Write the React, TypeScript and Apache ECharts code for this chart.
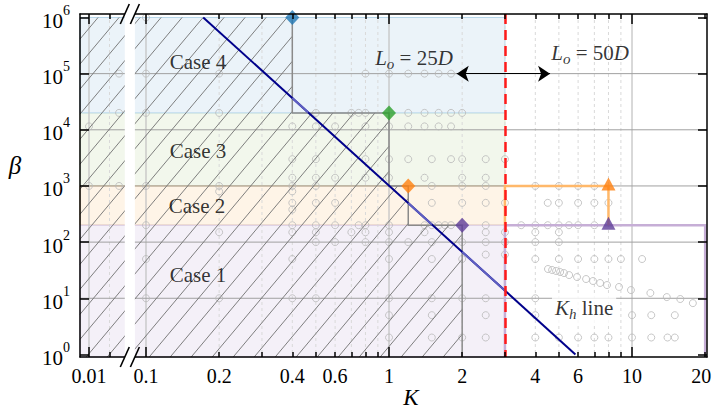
import { useEffect, useRef } from 'react';
import * as echarts from 'echarts';

const FONT = '"Liberation Serif", "Times New Roman", Times, serif';

// ---------------- axes ----------------
const xLabelK = [0.01, 0.1, 0.2, 0.4, 0.6, 1, 2, 4, 6, 10, 20];
const xMajorTickK = [0.01, 0.1, 1, 10];
const xMinorTickK = [0.03, 0.2, 0.3, 0.4, 0.5, 0.6, 0.7, 0.8, 0.9, 2, 3, 4, 5, 6, 7, 8, 9, 20];
const xGridMajorK = [0.01, 0.1, 1, 10];
const xGridMinorK = [0.03, 0.2, 0.3, 0.4, 0.5, 0.6, 0.7, 0.8, 0.9, 2, 3, 4, 5, 6, 7, 8, 9];
const yExponents = [0, 1, 2, 3, 4, 5, 6];
const yGridExponents = [1, 2, 3, 4, 5];

// broken K axis: left panel ends at BREAK_FROM_K, main panel starts at BREAK_TO_K
const BREAK_FROM_K = 0.068;
const BREAK_TO_K = 0.09;
const K_AXIS_MIN = 0.00618;
const K_AXIS_MAX = 20.35;
const BETA_AXIS_MIN = 0.9;
const BETA_AXIS_MAX = 1.153e6;

// ---------------- regimes ----------------
const caseNames = ['Case 1', 'Case 2', 'Case 3', 'Case 4'];
const caseBetaLow = [BETA_AXIS_MIN, 200, 1000, 20000];
const caseBetaHigh = [200, 1000, 20000, 1e6];
const caseKEnd = 3; // L_o = 25D / 50D boundary
const thresholdK = [2, 1.2, 1, 0.4]; // hatched (stable) region extends to these K
const caseFill = ['#f4f0f8', '#fef4e7', '#f2f7ec', '#ebf3f9'];
const caseEdge = ['#d6c9e6', '#e8bb85', '#dcebcf', '#b5d6ea'];
const caseMarkerColor = ['#5e3c99', '#ff7f0e', '#2ca02c', '#1f77b4'];

// L_o = 50D thresholds (triangles)
const lo50K = [8, 8];
const lo50Beta = [1000, 200];
const lo50Color = ['#ff7f0e', '#5e3c99'];
const lo50OutlineK = [3, 8, 20];

// K_h line (end points)
const khK = [0.172, 5.85];
const khBeta = [1e6, 1];
const khLightRangesK = [[0.4, 0.465], [1.2, 1.5], [2, 3]];

// L_o arrow
const arrowK = [1.9, 4.6];
const arrowBeta = 1e5;

// ---------------- simulation points (grey circles) ----------------
const rowBeta = [1e6, 1e5, 2e4, 1.15e4, 3e3, 1.4e3, 1e3, 8e2, 5e2, 3.8e2, 2e2, 1.5e2, 1e2, 60, 50, 10, 5, 2];
const rowK = [
  [0.1],
  [0.05, 0.1, 0.2, 0.8, 1, 1.2, 1.4, 1.6, 1.8],
  [0.05, 0.1, 0.2, 0.5, 0.7, 0.75, 0.8, 1.2, 1.4, 1.6, 1.8, 2],
  [0.01, 0.4, 0.5, 0.6, 0.8, 1, 1.2, 1.4, 1.6, 1.8],
  [0.4, 0.5, 0.8, 1, 1.2, 1.5, 1.8, 2, 2.5, 3],
  [0.4, 0.5, 0.6, 0.8, 1, 1.4, 2, 2.5],
  [0.01, 0.05, 0.1, 0.2, 0.4, 0.5, 1.5, 2, 2.5, 4, 5, 6, 7],
  [0.2, 0.4],
  [0.4, 0.5, 0.6, 1.5, 2, 2.5, 3, 4.5, 5, 6, 7, 8],
  [0.4],
  [0.1, 0.4, 0.5, 0.6, 0.75, 0.8, 1, 1.4, 1.5, 1.6, 1.7, 1.8, 2.5, 3.5, 4, 4.5, 5, 5.5, 6, 7],
  [0.2, 0.4, 0.5, 0.7, 0.8, 1, 1.4, 2.5, 3, 4, 5],
  [0.5, 0.6, 0.8, 1, 1.2, 1.5, 2, 2.5, 3, 4, 5],
  [2.5, 3],
  [0.1, 0.4, 1, 1.5, 2, 4, 5, 6, 7, 8, 9, 11],
  [0.1, 0.2, 0.4, 0.5, 1, 1.5, 2, 2.5, 4],
  [1, 1.5, 2.5, 4, 10, 12, 15],
  [1, 1.5, 2, 2.5, 4, 5, 6, 7, 8, 10, 12, 14, 15],
];
const curveK = [4.51, 4.69, 4.87, 5.06, 5.25, 5.51, 5.94, 6.47, 6.91, 7.39, 7.89, 8.84, 9.9, 11.9, 13.9, 15.8, 17.8];
const curveBeta = [33.2, 31.9, 30.6, 29.3, 28.1, 25.9, 23.9, 22.0, 20.3, 18.7, 17.2, 15.9, 14.0, 12.4, 10.5, 9.7, 8.2];

// ---------------- transforms ----------------
const LEFT_T0 = -1.2346; // position of K = 0.01 in main-decade units
const LEFT_SCALE = 0.177; // left panel decade is compressed
const tx = (k: number) => (k <= BREAK_FROM_K ? LEFT_T0 + Math.log10(k / 0.01) * LEFT_SCALE : Math.log10(k));
const ty = (b: number) => Math.log10(b);
const X_MIN = tx(K_AXIS_MIN);
const X_MAX = tx(K_AXIS_MAX);
const Y_MIN = ty(BETA_AXIS_MIN);
const Y_MAX = ty(BETA_AXIS_MAX);

// point on K_h line (straight in log-log)
const khBetaAt = (k: number) => {
  const f = (Math.log10(k) - Math.log10(khK[0])) / (Math.log10(khK[1]) - Math.log10(khK[0]));
  return Math.pow(10, Math.log10(khBeta[0]) + f * (Math.log10(khBeta[1]) - Math.log10(khBeta[0])));
};
const P = (k: number, b: number) => [tx(k), ty(b)];

function buildOption(): any {
  const axisLineStyle = { color: '#000', width: 1.5 };
  const xBase = (extra: any) => ({
    type: 'value',
    min: X_MIN,
    max: X_MAX,
    z: 10,
    splitLine: { show: false },
    ...extra,
  });
  const labelFmt = (v: number) => {
    const k = xLabelK.find((kk) => Math.abs(tx(kk) - v) < 1e-6);
    if (k === undefined) return '';
    return k === xLabelK[xLabelK.length - 1] ? `{e|${k}}` : String(k);
  };
  const xAxis = [
    xBase({
      position: 'bottom',
      axisLine: { show: true, onZero: false, lineStyle: axisLineStyle },
      axisTick: { show: true, inside: true, length: 10, customValues: xMajorTickK.map(tx), lineStyle: axisLineStyle },
      axisLabel: {
        show: true,
        customValues: xLabelK.map(tx),
        formatter: labelFmt,
        fontFamily: FONT,
        fontSize: 20,
        color: '#000',
        margin: 9,
        rich: { e: { fontFamily: FONT, fontSize: 20, color: '#000', padding: [0, 8, 0, 0] } },
      },
    }),
    xBase({
      position: 'bottom',
      axisLine: { show: false, onZero: false },
      axisTick: { show: true, inside: true, length: 5, customValues: xMinorTickK.map(tx), lineStyle: axisLineStyle },
      axisLabel: { show: false },
    }),
    xBase({
      position: 'top',
      axisLine: { show: true, onZero: false, lineStyle: axisLineStyle },
      axisTick: { show: true, inside: true, length: 10, customValues: xMajorTickK.map(tx), lineStyle: axisLineStyle },
      axisLabel: { show: false },
    }),
    xBase({
      position: 'top',
      axisLine: { show: false, onZero: false },
      axisTick: { show: true, inside: true, length: 5, customValues: xMinorTickK.map(tx), lineStyle: axisLineStyle },
      axisLabel: { show: false },
    }),
  ];
  const yAxis = [
    {
      type: 'value',
      min: Y_MIN,
      max: Y_MAX,
      position: 'left',
      z: 10,
      splitLine: { show: false },
      axisLine: { show: true, onZero: false, lineStyle: axisLineStyle },
      axisTick: { show: true, inside: true, length: 9, customValues: yExponents, lineStyle: axisLineStyle },
      axisLabel: {
        show: true,
        customValues: yExponents,
        margin: 10,
        formatter: (v: number) => `{b|10}{s|${Math.round(v)}}`,
        rich: {
          b: { fontFamily: FONT, fontSize: 21, color: '#000', lineHeight: 28, verticalAlign: 'bottom' },
          s: { fontFamily: FONT, fontSize: 14, color: '#000', lineHeight: 14, verticalAlign: 'top' },
        },
      },
    },
    {
      type: 'value',
      min: Y_MIN,
      max: Y_MAX,
      position: 'right',
      z: 10,
      splitLine: { show: false },
      axisLine: { show: true, onZero: false, lineStyle: axisLineStyle },
      axisTick: { show: true, inside: true, length: 9, customValues: yExponents, lineStyle: axisLineStyle },
      axisLabel: { show: false },
    },
  ];

  const series: any[] = [];

  // regime bands (drawing order so that the lower band's top edge wins)
  const bandOrder = [2, 3, 1, 0];
  series.push({
    type: 'custom',
    silent: true,
    z: 1,
    data: bandOrder.map((i) => [i, 0]),
    renderItem: (_p: any, api: any) => {
      const i = api.value(0);
      const a = api.coord([X_MIN, ty(caseBetaHigh[i])]);
      const b = api.coord([tx(caseKEnd), ty(caseBetaLow[i])]);
      return {
        type: 'rect',
        shape: { x: a[0], y: a[1], width: b[0] - a[0], height: b[1] - a[1] },
        style: { fill: caseFill[i], stroke: caseEdge[i], lineWidth: 1 },
      };
    },
  });

  // grid lines
  const vGrid = [...xGridMajorK.map((k) => [tx(k), 0, 1]), ...xGridMinorK.map((k) => [tx(k), 0, 0])];
  series.push({
    type: 'custom',
    silent: true,
    z: 2,
    data: vGrid,
    renderItem: (params: any, api: any) => {
      const cs = params.coordSys;
      const x = api.coord([api.value(0), 0])[0];
      const major = api.value(2) === 1;
      return {
        type: 'line',
        shape: { x1: x, y1: cs.y, x2: x, y2: cs.y + cs.height },
        style: major
          ? { stroke: '#c4c4c4', lineWidth: 1.3 }
          : { stroke: '#d9d9d9', lineWidth: 1, lineDash: [3, 3] },
      };
    },
  });
  series.push({
    type: 'custom',
    silent: true,
    z: 2,
    data: yGridExponents.map((e) => [0, e]),
    renderItem: (params: any, api: any) => {
      const cs = params.coordSys;
      const y = api.coord([0, api.value(1)])[1];
      return {
        type: 'line',
        shape: { x1: cs.x, y1: y, x2: cs.x + cs.width, y2: y },
        style: { stroke: '#a0a0a0', lineWidth: 1 },
      };
    },
  });

  // grey simulation points
  const circles: number[][] = [];
  rowBeta.forEach((b, r) => rowK[r].forEach((k) => circles.push(P(k, b))));
  curveK.forEach((k, i) => circles.push(P(k, curveBeta[i])));
  series.push({
    type: 'scatter',
    silent: true,
    z: 3,
    symbol: 'circle',
    symbolSize: 7,
    itemStyle: { color: 'rgba(0,0,0,0)', borderColor: '#b9b9b9', borderWidth: 1 },
    data: circles,
  });

  // hatched stable region
  const HATCH_ANGLE = 50;
  const HATCH_SPACING = 21;
  series.push({
    type: 'custom',
    silent: true,
    z: 4,
    data: [[0, 0]],
    renderItem: (params: any, api: any) => {
      const cs = params.coordSys;
      const t = Math.tan((HATCH_ANGLE * Math.PI) / 180);
      const yRef = cs.y + cs.height;
      const children: any[] = [];
      for (let i = 0; i < caseNames.length; i++) {
        const a = api.coord([X_MIN, ty(caseBetaHigh[i])]);
        const b = api.coord([tx(thresholdK[i]), ty(caseBetaLow[i])]);
        const rx0 = a[0], ry0 = a[1], rx1 = b[0], ry1 = b[1];
        for (let c = cs.x - cs.height / t - HATCH_SPACING; c < cs.x + cs.width; c += HATCH_SPACING) {
          const yA = Math.max(ry0, yRef - t * (rx1 - c));
          const yB = Math.min(ry1, yRef - t * (rx0 - c));
          if (yB - yA > 0.2) {
            children.push({
              type: 'line',
              shape: { x1: c + (yRef - yB) / t, y1: yB, x2: c + (yRef - yA) / t, y2: yA },
              style: { stroke: '#707070', lineWidth: 0.9 },
            });
          }
        }
      }
      return { type: 'group', children };
    },
  });

  // staircase outline of the hatched region
  const stair: number[][] = [];
  for (let i = caseNames.length - 1; i >= 0; i--) {
    stair.push(P(thresholdK[i], caseBetaHigh[i]));
    stair.push(P(thresholdK[i], i === 0 ? BETA_AXIS_MIN : caseBetaHigh[i - 1]));
  }
  series.push({
    type: 'lines',
    coordinateSystem: 'cartesian2d',
    polyline: true,
    silent: true,
    z: 5,
    lineStyle: { color: '#8a8a8a', width: 1.5, opacity: 1 },
    data: [{ coords: stair }],
  });

  // L_o = 50D regime outlines
  series.push({
    type: 'lines',
    coordinateSystem: 'cartesian2d',
    polyline: true,
    silent: true,
    z: 5,
    data: [
      {
        coords: [P(lo50OutlineK[0], BETA_AXIS_MIN), P(lo50OutlineK[0], lo50Beta[1]), P(lo50OutlineK[2], lo50Beta[1]), P(lo50OutlineK[2], BETA_AXIS_MIN)],
        lineStyle: { color: '#c6aed6', width: 2.5, opacity: 1 },
      },
      {
        coords: [P(lo50OutlineK[0], lo50Beta[1]), P(lo50OutlineK[0], lo50Beta[0]), P(lo50OutlineK[1], lo50Beta[0]), P(lo50OutlineK[1], lo50Beta[1])],
        lineStyle: { color: '#ffb86a', width: 2.5, opacity: 1 },
      },
    ],
  });

  // K_h line
  series.push({
    type: 'lines',
    coordinateSystem: 'cartesian2d',
    silent: true,
    z: 6,
    lineStyle: { color: '#00008b', width: 2, opacity: 1 },
    data: [{ coords: [P(khK[0], khBeta[0]), P(khK[1], khBeta[1])] }],
  });
  series.push({
    type: 'lines',
    coordinateSystem: 'cartesian2d',
    silent: true,
    z: 6,
    lineStyle: { color: '#5f5fc2', width: 2, opacity: 1 },
    data: khLightRangesK.map(([k0, k1]) => ({ coords: [P(k0, khBetaAt(k0)), P(k1, khBetaAt(k1))] })),
  });

  // arrow between L_o regimes
  series.push({
    type: 'lines',
    coordinateSystem: 'cartesian2d',
    silent: true,
    z: 7,
    symbol: ['arrow', 'arrow'],
    symbolSize: 12,
    lineStyle: { color: '#000', width: 1, opacity: 1 },
    data: [{ coords: [P(arrowK[0], arrowBeta), P(arrowK[1], arrowBeta)] }],
  });

  // red dashed K = 3 boundary
  series.push({
    type: 'lines',
    coordinateSystem: 'cartesian2d',
    silent: true,
    z: 8,
    lineStyle: { color: '#ff1a1a', width: 2.5, type: [10, 6], opacity: 1 },
    data: [{ coords: [[tx(caseKEnd), Y_MAX], [tx(caseKEnd), Y_MIN]] }],
  });

  // diamonds: L_o = 25D thresholds
  series.push({
    type: 'scatter',
    silent: true,
    z: 9,
    symbol: 'diamond',
    symbolSize: [14, 15],
    data: thresholdK.map((k, i) => ({ value: P(k, caseBetaHigh[i]), itemStyle: { color: caseMarkerColor[i] } })),
  });
  // triangles: L_o = 50D thresholds
  series.push({
    type: 'scatter',
    silent: true,
    z: 9,
    symbol: 'triangle',
    symbolSize: [14, 13],
    symbolOffset: [0, -2],
    data: lo50K.map((k, i) => ({ value: P(k, lo50Beta[i]), itemStyle: { color: lo50Color[i] } })),
  });

  // text annotations
  const rich = {
    n: { fontFamily: FONT, fontSize: 21, color: '#000', lineHeight: 24, verticalAlign: 'top' },
    i: { fontFamily: FONT, fontSize: 21, fontStyle: 'italic', color: '#000', lineHeight: 24, verticalAlign: 'top' },
    sub: { fontFamily: FONT, fontSize: 15, fontStyle: 'italic', color: '#000', lineHeight: 15, verticalAlign: 'bottom', padding: [15, 0, 0, 0] },
  };
  const annotK = [0.1637, 0.1637, 0.162, 0.1637, 1.267, 6.72, 6.35];
  const annotBeta = [1.545e5, 4.02e3, 421, 24.9, 1.75e5, 2.2e5, 6.5];
  const annotText = [
    `{n|${caseNames[3]}}`,
    `{n|${caseNames[2]}}`,
    `{n|${caseNames[1]}}`,
    `{n|${caseNames[0]}}`,
    '{i|L}{sub|o}{n| = 25}{i|D}',
    '{i|L}{sub|o}{n| = 50}{i|D}',
    '{i|K}{sub|h}{n| line}',
  ];
  series.push({
    type: 'scatter',
    silent: true,
    z: 9,
    symbolSize: 0,
    data: annotK.map((k, i) => ({
      value: P(k, annotBeta[i]),
      label: {
        show: true,
        position: 'inside',
        formatter: annotText[i],
        rich,
        backgroundColor: i === 6 ? '#ffffff' : 'transparent',
        padding: i === 6 ? [4, 3, 2, 3] : 0,
      },
    })),
  });

  // axis break: white gap and "//" marks
  series.push({
    type: 'custom',
    silent: true,
    z: 11,
    data: [[0, 0]],
    renderItem: (params: any, api: any) => {
      const cs = params.coordSys;
      const x0 = api.coord([tx(BREAK_FROM_K), 0])[0];
      const x1 = api.coord([tx(BREAK_TO_K), 0])[0];
      const children: any[] = [
        { type: 'rect', shape: { x: x0, y: cs.y - 2, width: x1 - x0, height: cs.height + 4 }, style: { fill: '#ffffff' } },
      ];
      [cs.y, cs.y + cs.height].forEach((yy: number) => {
        [x0, x1].forEach((xx: number) => {
          children.push({
            type: 'line',
            shape: { x1: xx - 4.5, y1: yy + 10, x2: xx + 4.5, y2: yy - 10 },
            style: { stroke: '#000', lineWidth: 1.6 },
          });
        });
      });
      return { type: 'group', children };
    },
  });

  return {
    animation: false,
    backgroundColor: '#ffffff',
    grid: { left: 80, right: 6, top: 14, bottom: 54, containLabel: false, outerBoundsMode: 'none' },
    xAxis,
    yAxis,
    graphic: [
      {
        type: 'text',
        x: 15,
        y: 165,
        style: { text: 'β', fontFamily: FONT, fontSize: 25, fontStyle: 'italic', fill: '#000', align: 'center', verticalAlign: 'middle' },
      },
      {
        type: 'text',
        x: 411,
        y: 397,
        style: { text: 'K', fontFamily: FONT, fontSize: 23, fontStyle: 'italic', fill: '#000', align: 'center', verticalAlign: 'middle' },
      },
    ],
    series,
  };
}

export default function App() {
  const ref = useRef<HTMLDivElement>(null);
  useEffect(() => {
    document.body.style.margin = '0';
    const chart = echarts.init(ref.current!, null, { renderer: 'svg' });
    chart.setOption(buildOption());
    return () => chart.dispose();
  }, []);
  return <div ref={ref} style={{ width: 713, height: 411 }} />;
}
